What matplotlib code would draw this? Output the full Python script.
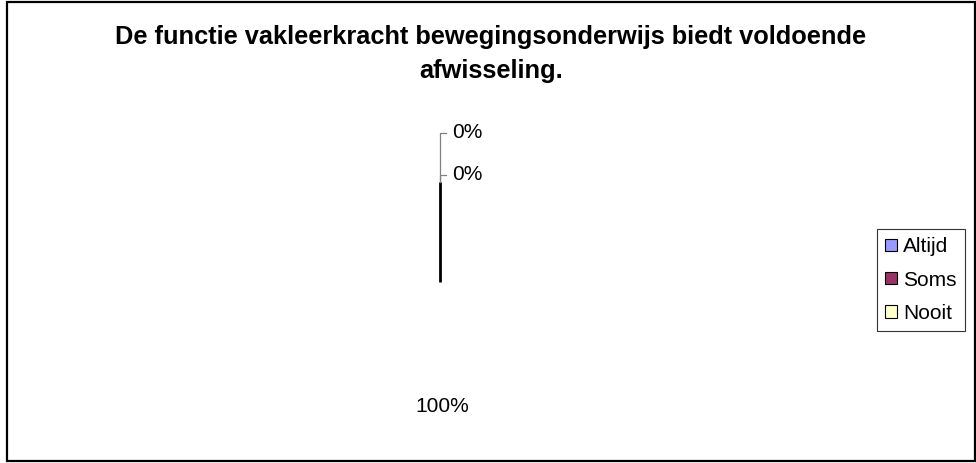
import numpy as np
import matplotlib
matplotlib.use("Agg")
import matplotlib.pyplot as plt
from matplotlib.patches import Patch, Rectangle

plt.rcParams['font.family'] = ['Liberation Sans', 'DejaVu Sans']

# answers and their share
categories = ["Altijd", "Soms", "Nooit"]
shares = [100, 0, 0]
legend_colors = ["#9999FF", "#993366", "#FFFFCC"]

W, H = 976, 463
fig = plt.figure(figsize=(W / 100, H / 100), dpi=100)

# outer chart frame
fig.patches.append(Rectangle((7 / W, 2 / H), 968 / W, 459 / H, transform=fig.transFigure,
                             fill=False, edgecolor="black", linewidth=1.6))

fig.text(491 / W, 1 - 37 / H, "De functie vakleerkracht bewegingsonderwijs biedt voldoende",
         ha="center", va="center", fontsize=18.3, fontweight="bold")
fig.text(491 / W, 1 - 71 / H, "afwisseling.",
         ha="center", va="center", fontsize=18.3, fontweight="bold")

# pie area: centre (440, 282), radius 100 px
cx, cy, r = 440, 282, 100
ax = fig.add_axes([(cx - r) / W, (H - cy - r) / H, 2 * r / W, 2 * r / H])

wedges, _ = ax.pie(shares, colors=["white"] * len(shares), startangle=90, counterclock=False,
                   radius=1, wedgeprops=dict(linewidth=0))
ax.set_xlim(-1, 1)
ax.set_ylim(-1, 1)
ax.set_aspect("equal")
ax.axis("off")

# slice border at the start angle
total = sum(shares)
bounds = 90 - 360 * np.cumsum([0] + shares) / total
a0 = np.deg2rad(bounds[0])
ax.plot([0, np.cos(a0)], [0, np.sin(a0)], color="black", linewidth=2, clip_on=False,
        solid_capstyle="butt")

# data labels
for i, v in enumerate(shares):
    mid = np.deg2rad((bounds[i] + bounds[i + 1]) / 2)
    txt = f"{v}%"
    if v == 0:
        # small slices: label above with a leader line
        ly = 1.07 if i == 1 else 1.49
        ax.plot([np.cos(mid), np.cos(mid), 0.06], [np.sin(mid), ly, ly],
                color="#808080", linewidth=0.9, clip_on=False)
        ax.text(0.12, ly, txt, ha="left", va="center", fontsize=15)
    else:
        ax.text(1.24 * np.cos(mid) + 0.02, 1.24 * np.sin(mid), txt,
                ha="center", va="center", fontsize=15)

handles = [Patch(facecolor=c, edgecolor="black", linewidth=0.8) for c in legend_colors]
leg = fig.legend(handles, categories, loc="center left", bbox_to_anchor=(877 / W, 1 - 280 / H),
                 fontsize=15, frameon=True, fancybox=False, handlelength=0.55, handleheight=0.55,
                 handletextpad=0.3, labelspacing=0.68, borderpad=0.4, borderaxespad=0)
leg.get_frame().set_edgecolor("black")
leg.get_frame().set_linewidth(0.8)

fig.savefig("out.png", dpi=100)
